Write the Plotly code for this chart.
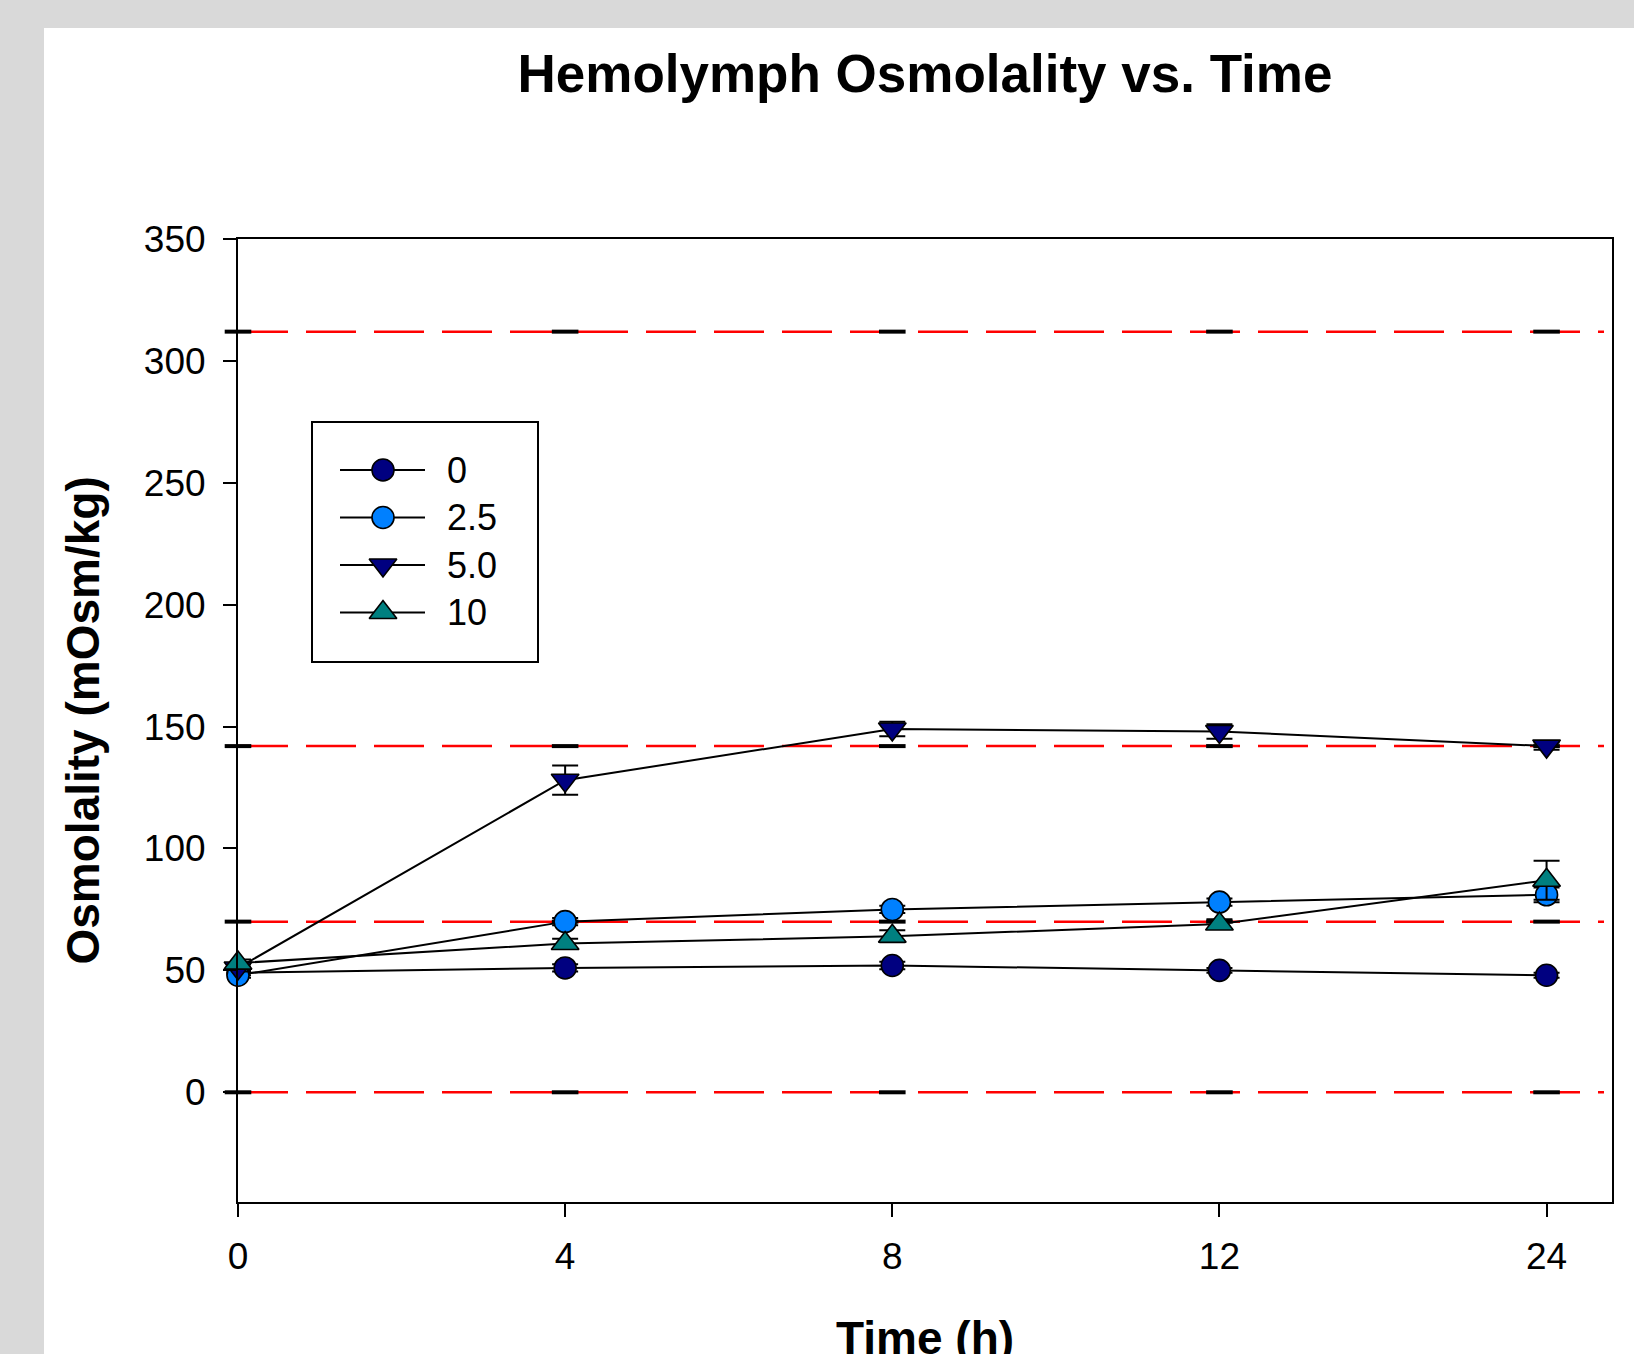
import plotly.graph_objects as go

# ---------------- data ----------------
TIME_LABELS = ["0", "4", "8", "12", "24"]
SERIES_NAMES = ["0", "2.5", "5.0", "10"]

MEAN_0 = [49, 51, 52, 50, 48]
MEAN_25 = [48, 70, 75, 78, 81]
MEAN_50 = [51, 128, 149, 148, 142]
MEAN_10 = [53, 61, 64, 69, 87]

ERR_0 = [1, 1.5, 1.5, 1, 1]
ERR_25 = [1, 1.5, 1.5, 1.5, 3]
ERR_50 = [1.5, 6, 3, 3, 1.5]
ERR_10 = [1.5, 2, 2.5, 2, 8]

REF_LEVELS = [0, 70, 142, 312]
Y_TICKS = [0, 50, 100, 150, 200, 250, 300, 350]

# ---------------- geometry / style ----------------
W, H = 1634, 1354
L, R, T, B = 238, 1612, 239, 1202
X_RANGE = [0, 4.2]
Y_RANGE = [-45, 350]
FONT = "Liberation Sans, Arial, Helvetica, sans-serif"

STYLES = [
    dict(color="#000080", symbol="circle", size=22),
    dict(color="#0080ff", symbol="circle", size=22),
    dict(color="#000080", symbol="triangle-down", size=24),
    dict(color="#008080", symbol="triangle-up", size=24),
]

MEANS = [MEAN_0, MEAN_25, MEAN_50, MEAN_10]
ERRS = [ERR_0, ERR_25, ERR_50, ERR_10]


def px_paper_x(X):
    return (X - L) / (R - L)


def px_paper_y(Y):
    return (B - Y) / (B - T)


def px_data_x(X):
    return X_RANGE[0] + (X - L) / (R - L) * (X_RANGE[1] - X_RANGE[0])


def px_data_y(Y):
    return Y_RANGE[0] + (B - Y) / (B - T) * (Y_RANGE[1] - Y_RANGE[0])


xpos = list(range(len(TIME_LABELS)))

fig = go.Figure()

# black cap marks on reference levels
fig.add_trace(go.Scatter(
    x=xpos * len(REF_LEVELS),
    y=[lvl for lvl in REF_LEVELS for _ in xpos],
    mode="markers",
    marker=dict(symbol="line-ew", size=19, color="black",
                line=dict(color="black", width=4)),
    showlegend=False, hoverinfo="skip", cliponaxis=False,
))

for name, mean, err, st in zip(SERIES_NAMES, MEANS, ERRS, STYLES):
    fig.add_trace(go.Scatter(
        x=xpos, y=mean, name=name,
        mode="lines+markers",
        line=dict(color="black", width=2),
        marker=dict(color=st["color"], symbol=st["symbol"], size=st["size"],
                    line=dict(color="black", width=1.6)),
        error_y=dict(type="data", array=err, color="black", thickness=2, width=13),
        cliponaxis=False, showlegend=False,
    ))

shapes = []
# white panel over gray page background
shapes.append(dict(type="rect", xref="paper", yref="paper",
                   x0=px_paper_x(44), x1=px_paper_x(W + 5),
                   y0=px_paper_y(H + 5), y1=px_paper_y(28),
                   fillcolor="white", line=dict(width=0), layer="below"))
# red dashed reference lines
for lvl in REF_LEVELS:
    shapes.append(dict(type="line", xref="paper", yref="y",
                       x0=0, x1=px_paper_x(1604), y0=lvl, y1=lvl,
                       line=dict(color="#ff0000", width=2.5, dash="50px,18px"),
                       layer="below"))

# custom legend
LEG_BOX = (312, 422, 538, 662)
LEG_Y = [470, 517.5, 565, 612.5]
shapes.append(dict(type="rect", xref="paper", yref="paper",
                   x0=px_paper_x(LEG_BOX[0]), x1=px_paper_x(LEG_BOX[2]),
                   y0=px_paper_y(LEG_BOX[3]), y1=px_paper_y(LEG_BOX[1]),
                   fillcolor="white", line=dict(color="black", width=2), layer="below"))
annotations = []
for name, st, ly in zip(SERIES_NAMES, STYLES, LEG_Y):
    shapes.append(dict(type="line", xref="paper", yref="paper",
                       x0=px_paper_x(340), x1=px_paper_x(425),
                       y0=px_paper_y(ly), y1=px_paper_y(ly),
                       line=dict(color="black", width=2), layer="below"))
    fig.add_trace(go.Scatter(
        x=[px_data_x(383)], y=[px_data_y(ly)], mode="markers",
        marker=dict(color=st["color"], symbol=st["symbol"], size=st["size"],
                    line=dict(color="black", width=1.6)),
        showlegend=False, hoverinfo="skip", cliponaxis=False,
    ))
    annotations.append(dict(xref="paper", yref="paper",
                            x=px_paper_x(445), y=px_paper_y(ly),
                            xanchor="left", yanchor="middle", showarrow=False,
                            text=name, font=dict(size=36, color="black", family=FONT)))

# axis titles
annotations.append(dict(xref="paper", yref="paper", x=0.5, y=px_paper_y(1338),
                        xanchor="center", yanchor="middle", showarrow=False,
                        text="<b>Time (h)</b>", font=dict(size=46, color="black", family=FONT)))
annotations.append(dict(xref="paper", yref="paper", x=px_paper_x(82), y=0.5,
                        xanchor="center", yanchor="middle", showarrow=False, textangle=-90,
                        text="<b>Osmolality (mOsm/kg)</b>",
                        font=dict(size=46, color="black", family=FONT)))

fig.update_layout(
    width=W, height=H,
    margin=dict(l=L, r=W - R, t=T, b=H - B),
    paper_bgcolor="#d9d9d9",
    plot_bgcolor="rgba(0,0,0,0)",
    font=dict(family=FONT, color="black"),
    title=dict(text="<b>Hemolymph Osmolality vs. Time</b>",
               font=dict(size=53, color="black", family=FONT),
               x=px_paper_x(925), xref="paper", xanchor="center",
               y=1 - 73 / H, yref="container", yanchor="middle"),
    shapes=shapes,
    annotations=annotations,
    showlegend=False,
    xaxis=dict(range=X_RANGE, tickvals=xpos, ticktext=TIME_LABELS,
               showgrid=False, zeroline=False, showline=True, linecolor="black",
               linewidth=2, mirror=True, ticks="outside", ticklen=13, tickwidth=2,
               tickcolor="black", tickfont=dict(size=37, family=FONT, color="black"),
               ticklabelstandoff=8),
    yaxis=dict(range=Y_RANGE, tickvals=Y_TICKS,
               showgrid=False, zeroline=False, showline=True, linecolor="black",
               linewidth=2, mirror=True, ticks="outside", ticklen=13, tickwidth=2,
               tickcolor="black", tickfont=dict(size=37, family=FONT, color="black"),
               ticklabelstandoff=10),
)

fig.write_html("out.html")
